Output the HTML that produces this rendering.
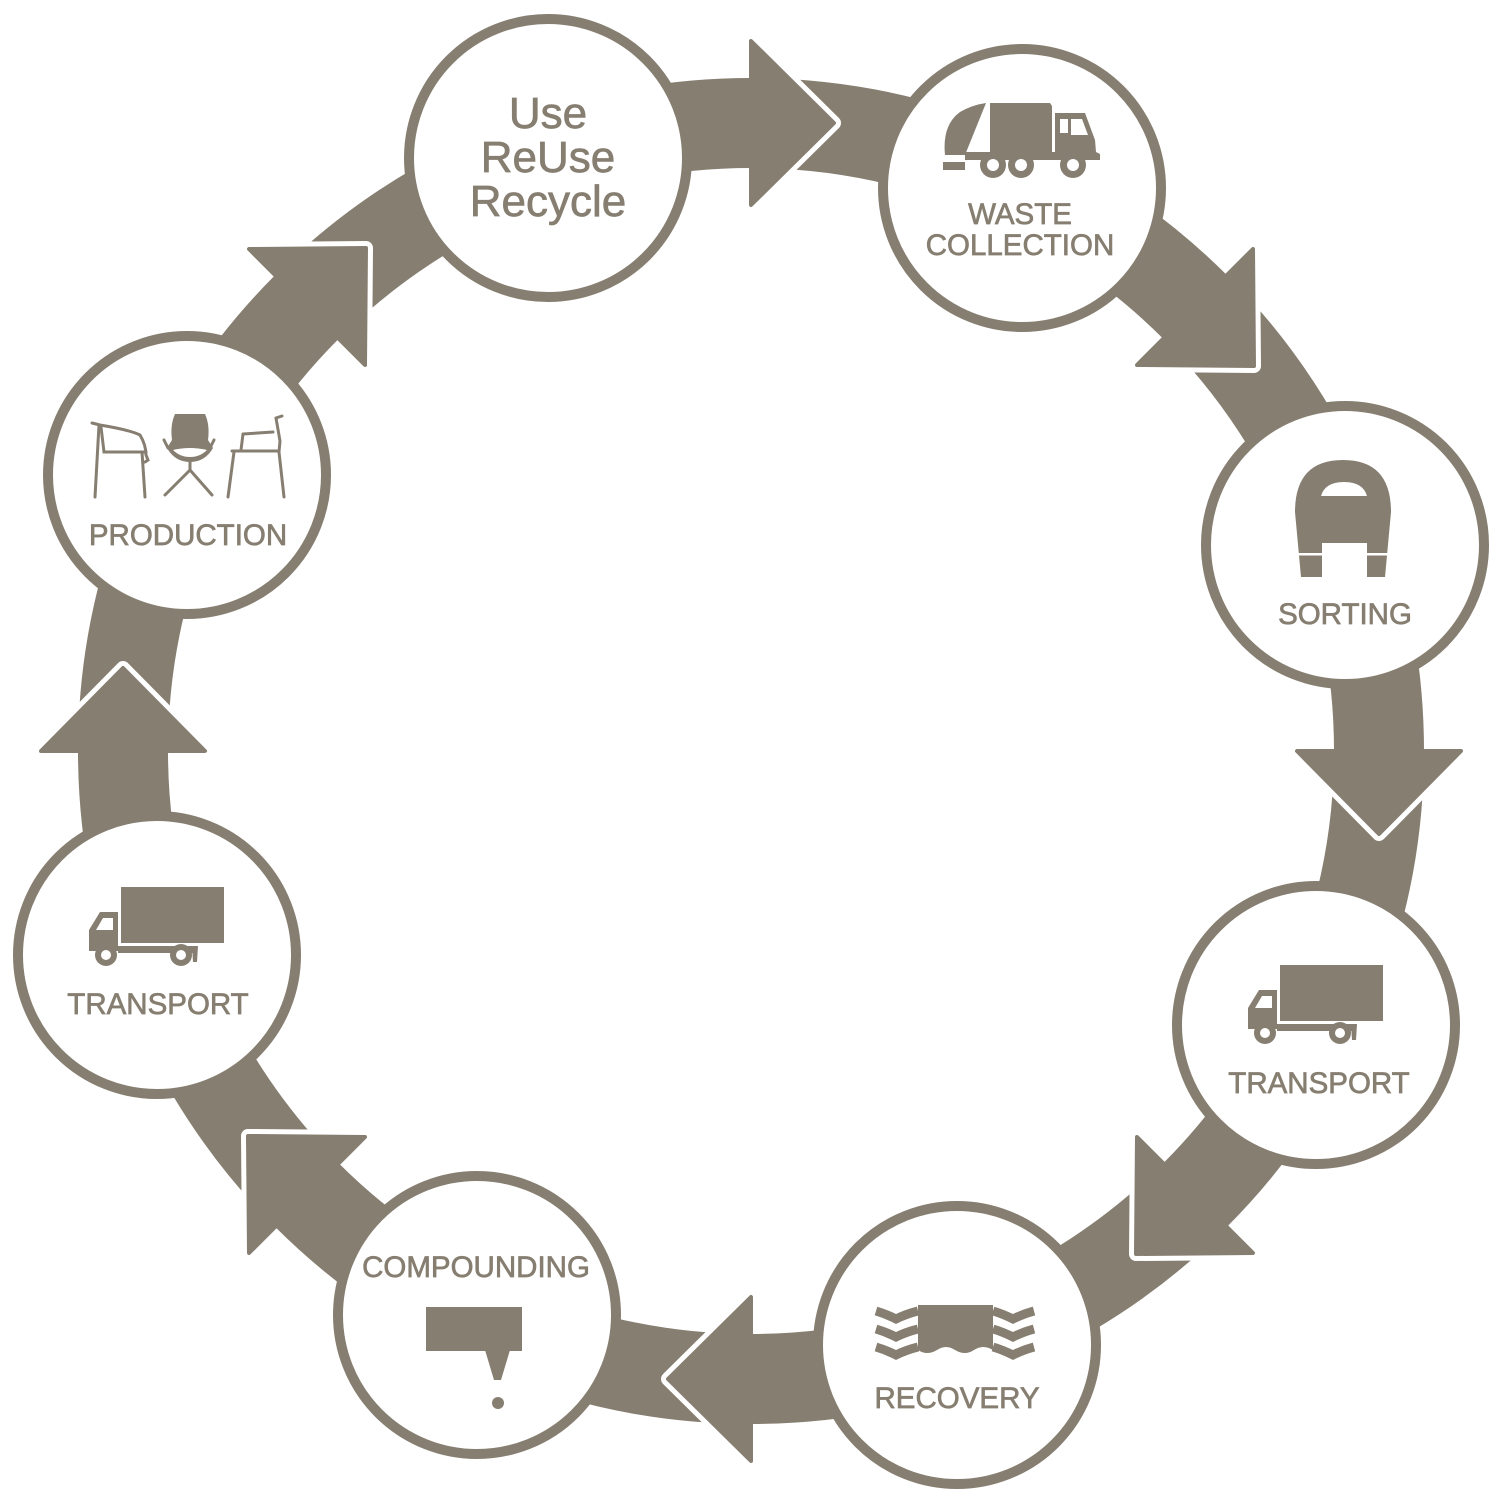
<!DOCTYPE html>
<html><head><meta charset="utf-8"><style>
html,body{margin:0;padding:0;background:#fff;}
svg{display:block}
text{font-family:"Liberation Sans",sans-serif;fill:#867e70;text-anchor:middle;stroke:#867e70;stroke-width:0.7}
</style></head><body>
<svg width="1500" height="1500" viewBox="0 0 1500 1500" xmlns="http://www.w3.org/2000/svg">
<g fill="#867e70">
<circle cx="751" cy="751" r="628" fill="none" stroke="#867e70" stroke-width="90"/>
<g stroke="#fff" stroke-width="14" fill="none" stroke-linejoin="round">
<polyline points="751,41 834,123 751,205"/>
<polyline points="1253,249 1254,366 1137,365"/>
<polyline points="1461,751 1379,834 1297,751"/>
<polyline points="1253,1253 1136,1254 1137,1137"/>
<polyline points="751,1461 668,1379 751,1297"/>
<polyline points="249,1253 248,1136 365,1137"/>
<polyline points="41,751 123,668 205,751"/>
<polyline points="249,249 366,248 365,365"/>
</g>
<g stroke="#867e70" stroke-width="4" stroke-linejoin="round">
<polygon points="751,41 834,123 751,205"/>
<polygon points="1253,249 1254,366 1137,365"/>
<polygon points="1461,751 1379,834 1297,751"/>
<polygon points="1253,1253 1136,1254 1137,1137"/>
<polygon points="751,1461 668,1379 751,1297"/>
<polygon points="249,1253 248,1136 365,1137"/>
<polygon points="41,751 123,668 205,751"/>
<polygon points="249,249 366,248 365,365"/>
</g>
<g fill="#fff" stroke="#867e70" stroke-width="10">
<circle cx="548" cy="158" r="139"/>
<circle cx="1022" cy="188" r="139"/>
<circle cx="1345" cy="545" r="139"/>
<circle cx="1316" cy="1025" r="139"/>
<circle cx="957" cy="1345" r="139"/>
<circle cx="477" cy="1315" r="139"/>
<circle cx="157" cy="955" r="139"/>
<circle cx="187" cy="475" r="139"/>
</g>
</g>
<text x="548" y="128" font-size="44">Use</text>
<text x="548" y="172" font-size="44">ReUse</text>
<text x="548" y="216" font-size="44">Recycle</text>
<text x="1020" y="224" font-size="29.5">WASTE</text>
<text x="1020" y="255" font-size="29.5">COLLECTION</text>
<text x="1345" y="624" font-size="29.5">SORTING</text>
<text x="1319" y="1093" font-size="29.5">TRANSPORT</text>
<text x="957" y="1408" font-size="29.5">RECOVERY</text>
<text x="476" y="1277" font-size="29.5">COMPOUNDING</text>
<text x="158" y="1014" font-size="29.5">TRANSPORT</text>
<text x="188" y="545" font-size="29.5">PRODUCTION</text>
<g fill="#867e70">
<path d="M990,103 L1050,103 L1052,106 L1052,152 L990,152 Z"/>
<path d="M986,103 L965,155 L945,155 Q942,125 960,112 Q972,105 986,103 Z"/>
<rect x="943" y="162" width="22" height="8"/>
<path d="M1055,113 L1085,113 L1095,140 L1096,152 L1100,154 L1100,160 L1055,160 Z"/>
<rect x="965" y="152" width="125" height="8"/>
<rect x="1060" y="119" width="8" height="14" fill="#fff"/>
<path d="M1071,119 L1082,119 L1088,135 L1071,135 Z" fill="#fff"/>
<circle cx="993" cy="165" r="13"/><circle cx="993" cy="165" r="6" fill="#fff"/>
<circle cx="1021" cy="165" r="13"/><circle cx="1021" cy="165" r="6" fill="#fff"/>
<circle cx="1073" cy="165" r="13"/><circle cx="1073" cy="165" r="6" fill="#fff"/>
</g>
<path fill="#867e70" d="M1301,577 L1295,512 Q1295,460 1343,460 Q1391,460 1391,512 L1385,577 L1367,577 L1367,543 L1322,543 L1322,577 Z"/>
<path fill="#fff" d="M1321,496 Q1325,482 1344,482 Q1363,482 1367,496 Z"/>
<rect x="1298" y="553" width="92" height="2.5" fill="#fff"/>
<g id="truck" fill="#867e70">
<rect x="121" y="887" width="103" height="56"/>
<path d="M89,951 L89,930 L100,912 L118,912 L118,951 Z"/>
<path d="M96,930 L103,918 L113,918 L113,930 Z" fill="#fff"/>
<rect x="118" y="946" width="76" height="7"/>
<path d="M192,946 L198,946 L197,962 L193,962 Z"/>
<circle cx="106" cy="955" r="11"/><circle cx="106" cy="955" r="5" fill="#fff"/>
<circle cx="181" cy="955" r="11"/><circle cx="181" cy="955" r="5" fill="#fff"/>
</g>
<use href="#truck" transform="translate(1159,78)"/>
<g fill="#867e70">
<path d="M918,1305 L993,1305 L993,1350 Q983,1344 974,1350 Q965,1356 955,1350 Q946,1344 937,1350 Q927,1356 918,1350 Z"/>
<g fill="none" stroke="#867e70" stroke-width="9">
<path d="M876,1311 Q886,1314 896,1319 Q906,1314 918,1311"/>
<path d="M876,1329 Q886,1332 896,1337 Q906,1332 918,1329"/>
<path d="M876,1347 Q886,1350 896,1355 Q906,1350 918,1347"/>
<path d="M993,1311 Q1003,1314 1013,1319 Q1023,1314 1034,1311"/>
<path d="M993,1329 Q1003,1332 1013,1337 Q1023,1332 1034,1329"/>
<path d="M993,1347 Q1003,1350 1013,1355 Q1023,1350 1034,1347"/>
</g>
</g>
<g fill="#867e70">
<rect x="426" y="1307" width="96" height="44"/>
<path d="M485,1350 L510,1350 L501,1380 L494,1380 Z"/>
<circle cx="498" cy="1403" r="6"/>
</g>
<g fill="none" stroke="#867e70" stroke-width="3" stroke-linecap="round">
<path d="M92,423 L100,425 Q130,430 140,435 Q146,445 146,455 L148,460 L145,462"/>
<path d="M99,425 L95,497"/><path d="M101,427 L104,452 L146,452"/><path d="M142,452 L145,497"/>
<path d="M164,440 L168,448"/><path d="M214,440 L210,448"/>
<path d="M190,462 L190,470 L165,495"/><path d="M190,470 L212,495"/>
<path d="M276,418 L280,441 L279,452 L284,497"/><path d="M276,418 L282,416"/>
<path d="M243,434 L273,432"/><path d="M232,451 L278,451"/><path d="M234,452 L228,497"/><path d="M243,434 L241,450"/>
</g>
<path fill="#867e70" d="M175,414 L205,414 Q210,425 208,440 L213,448 Q205,462 190,462 Q175,462 167,448 L172,440 Q170,425 175,414 Z"/>
<path fill="#fff" d="M173,450 Q190,446 207,450 Q200,457 190,457 Q180,457 173,450 Z"/>
</svg>
</body></html>
